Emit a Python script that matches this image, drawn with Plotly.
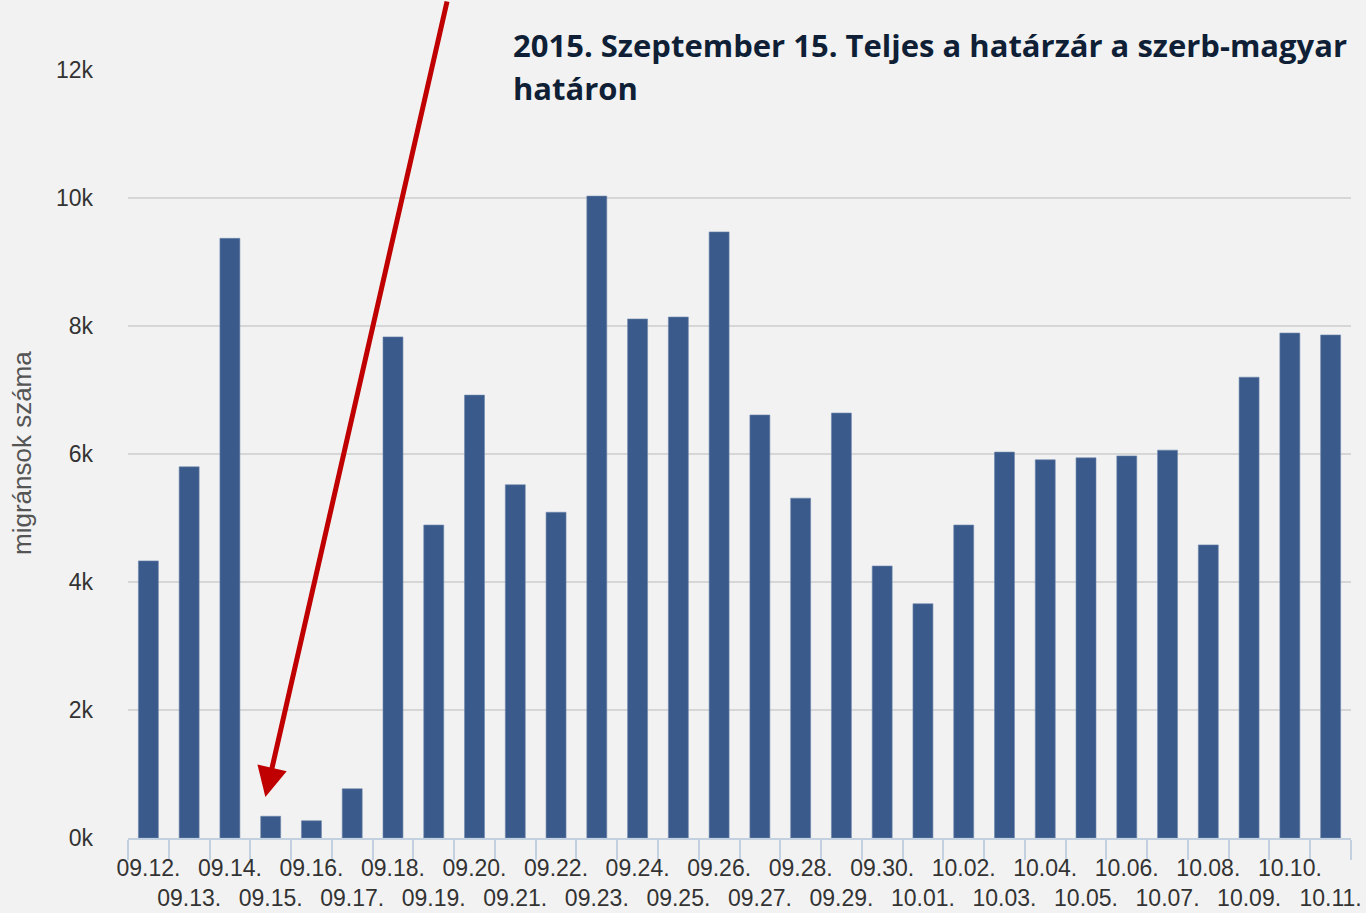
import plotly.graph_objects as go

dates = ["09.12.", "09.13.", "09.14.", "09.15.", "09.16.", "09.17.", "09.18.", "09.19.",
         "09.20.", "09.21.", "09.22.", "09.23.", "09.24.", "09.25.", "09.26.", "09.27.",
         "09.28.", "09.29.", "09.30.", "10.01.", "10.02.", "10.03.", "10.04.", "10.05.",
         "10.06.", "10.07.", "10.08.", "10.09.", "10.10.", "10.11."]
migrants = [4330, 5800, 9370, 340, 270, 770, 7830, 4890, 6920, 5520, 5090, 10030,
            8110, 8140, 9470, 6610, 5310, 6640, 4250, 3660, 4890, 6030, 5910, 5940,
            5970, 6060, 4580, 7200, 7890, 7860]
y_ticks = [0, 2000, 4000, 6000, 8000, 10000, 12000]
y_tick_labels = ["0k", "2k", "4k", "6k", "8k", "10k", "12k"]
title_line1 = "2015. Szeptember 15. Teljes a határzár a szerb-magyar"
title_line2 = "határon"
y_title = "migránsok száma"
event_index = 3

tick_text = [d if i % 2 == 0 else "<br>" + d for i, d in enumerate(dates)]

W, H = 1366, 913
L, R, T, B = 128, 15, 70, 75

fig = go.Figure(go.Bar(
    x=dates, y=migrants,
    marker=dict(color="#3a5a8b", line=dict(color="#6f88ad", width=0.6)),
    width=0.49,
))

fig.update_layout(
    width=W, height=H,
    margin=dict(l=L, r=R, t=T, b=B, autoexpand=False),
    paper_bgcolor="#f2f2f2", plot_bgcolor="#f2f2f2",
    showlegend=False,
    font=dict(family="Liberation Sans, Arial", color="#333333"),
)
fig.update_xaxes(
    type="category", automargin=False,
    range=[-0.5, len(dates) - 0.5],
    tickvals=dates, ticktext=tick_text, tickangle=0,
    tickfont=dict(size=23, color="#333333"),
    ticks="outside", ticklen=20, tickcolor="#c3d0e0", tickwidth=1.5,
    tickson="boundaries", ticklabelstandoff=9,
    showline=True, linecolor="#c3d0e0", linewidth=1.5,
    showgrid=False, zeroline=False,
)
fig.update_yaxes(
    automargin=False,
    range=[0, 12000],
    tickmode="array", tickvals=y_ticks, ticktext=y_tick_labels,
    tickfont=dict(size=23, color="#333333"),
    showgrid=True, gridcolor="#d6d6d6", gridwidth=2,
    zeroline=False, ticks="", ticklabelstandoff=34,
)

pw = W - L - R
ph = H - T - B

def px_x(px):
    return (px - L) / pw

def px_y(py):
    return (H - B - py) / ph

fig.add_annotation(
    xref="paper", yref="paper", x=px_x(22), y=px_y(453),
    text=y_title, textangle=-90, showarrow=False,
    font=dict(size=26, color="#555555"), xanchor="center", yanchor="middle",
)
fig.add_annotation(
    xref="paper", yref="paper", x=px_x(511), y=px_y(45),
    text="<b>" + title_line1 + "</b>", showarrow=False,
    font=dict(family="Open Sans", size=31, color="#0f1f36"),
    xanchor="left", yanchor="middle",
)
fig.add_annotation(
    xref="paper", yref="paper", x=px_x(511), y=px_y(88),
    text="<b>" + title_line2 + "</b>", showarrow=False,
    font=dict(family="Open Sans", size=31, color="#0f1f36"),
    xanchor="left", yanchor="middle",
)
fig.add_annotation(
    x=event_index - 0.13, y=migrants[event_index] + 300,
    xref="x", yref="y", text="", showarrow=True,
    arrowhead=2, arrowsize=1.2, arrowwidth=5, arrowcolor="#c00000",
    ax=182, ay=-810, standoff=0,
)

fig.write_html(
    "out.html",
    config={"displayModeBar": False},
    post_script="document.body.style.margin='0';document.body.style.overflow='hidden';",
)
